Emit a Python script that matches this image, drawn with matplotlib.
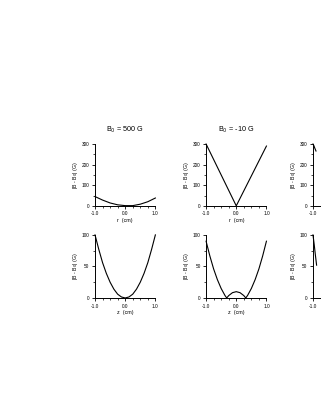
import matplotlib
matplotlib.use('Agg')
import matplotlib.pyplot as plt
from matplotlib.ticker import MultipleLocator

plt.rcParams['font.family'] = ['Liberation Sans', 'DejaVu Sans']

# data
r_pos = [-1.0, -0.75, -0.5, -0.25, 0.0, 0.25, 0.5, 0.75, 1.0]
dB_r_500 = [45, 28, 14, 5, 1, 1, 8, 20, 38]
r_v = [-1.0, -0.5, 0.0, 0.5, 1.0]
dB_r_m10 = [300, 150, 0, 145, 290]

z_pos = [-1.0, -0.875, -0.75, -0.625, -0.5, -0.375, -0.25, -0.125, 0.0,
         0.125, 0.25, 0.375, 0.5, 0.625, 0.75, 0.875, 1.0]
dB_z_500 = [100, 77, 56, 39, 25, 14, 6, 1.6, 0, 1.6, 6, 14, 25, 39, 56, 77, 100]
z_m10 = [-1.0, -0.875, -0.75, -0.625, -0.5, -0.375, -0.316, -0.25, -0.125, 0.0,
         0.125, 0.25, 0.316, 0.375, 0.5, 0.625, 0.75, 0.875, 1.0]
dB_z_m10 = [90, 66.6, 46, 29, 15, 4, 0, 3.8, 8.4, 10, 8.4, 3.8, 0, 4, 15, 29, 46, 66.6, 90]

r_third = [-1.0, -0.97, -0.94, -0.9]
dB_r_third = [300, 292, 280, 266]
z_third = [-1.0, -0.96, -0.92, -0.88]
dB_z_third = [100, 85, 68, 52]

titles = ['B$_0$ = 500 G', 'B$_0$ = -10 G']

fig = plt.figure(figsize=(3.21, 4.15), dpi=100)

lefts = [0.296, 0.642, 0.975]
w = 0.188
top_b, top_h = 0.504, 0.149
bot_b, bot_h = 0.282, 0.152

top_data = [(r_pos, dB_r_500), (r_v, dB_r_m10), (r_third, dB_r_third)]
bot_data = [(z_pos, dB_z_500), (z_m10, dB_z_m10), (z_third, dB_z_third)]


def style(ax, ymax, ymaj, ymin, xl):
    ax.set_xlim(-1.0, 1.0)
    ax.set_ylim(0, ymax)
    for s in ['top', 'right']:
        ax.spines[s].set_visible(False)
    for s in ['left', 'bottom']:
        ax.spines[s].set_linewidth(0.7)
    ax.xaxis.set_major_locator(MultipleLocator(1.0))
    ax.xaxis.set_minor_locator(MultipleLocator(0.25))
    ax.yaxis.set_major_locator(MultipleLocator(ymaj))
    ax.yaxis.set_minor_locator(MultipleLocator(ymin))
    ax.xaxis.set_major_formatter(plt.FormatStrFormatter('%.1f'))
    ax.tick_params(which='major', length=2.2, width=0.6, labelsize=3.4, pad=1.8)
    ax.tick_params(which='minor', length=1.2, width=0.5)
    ax.set_xlabel(xl, fontsize=3.8, labelpad=1)
    ax.set_ylabel('|B - B$_0$| (G)', fontsize=3.8, labelpad=1.5)


for i, left in enumerate(lefts):
    ax = fig.add_axes([left, top_b, w, top_h])
    ax.plot(top_data[i][0], top_data[i][1], color='black', lw=0.8, clip_on=False)
    style(ax, 300, 100, 50, 'r  (cm)')
    if i < len(titles):
        ax.set_title(titles[i], fontsize=5.2, pad=9)

    ax = fig.add_axes([left, bot_b, w, bot_h])
    ax.plot(bot_data[i][0], bot_data[i][1], color='black', lw=0.8, clip_on=False)
    style(ax, 100, 50, 25, 'z  (cm)')

fig.savefig('out.png', dpi=100)
